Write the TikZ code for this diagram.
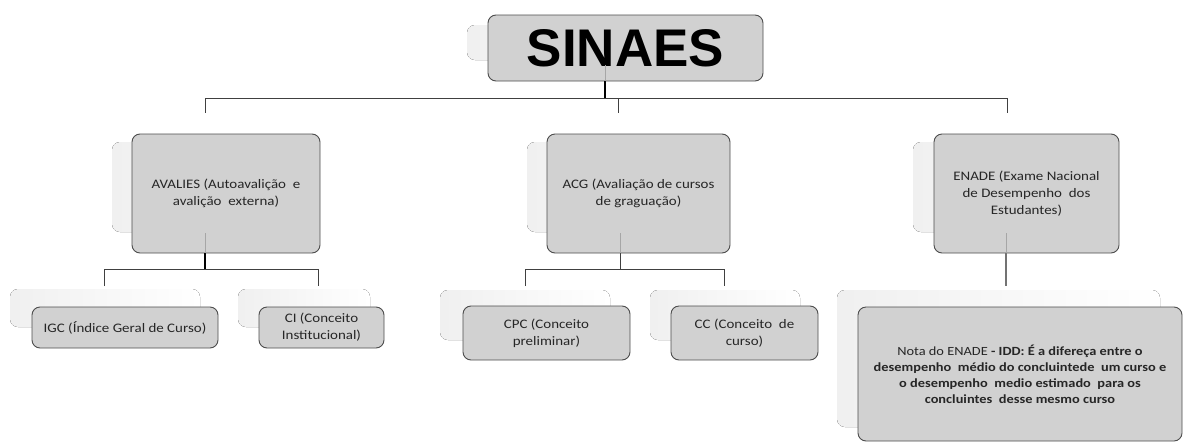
\documentclass[tikz,border=0pt]{standalone}
\usepackage{fontspec}
\setmainfont{Carlito}[FakeStretch=1.15]
\newfontfamily\arialfont{Liberation Sans}
\usetikzlibrary{calc}
\definecolor{boxgray}{RGB}{209,209,209}
\tikzset{
  box/.style={draw=black!70, fill=boxgray, rounded corners=8pt, line width=0.9pt,
    align=center, text=black!85, inner sep=0pt, font=\fontsize{13}{17}\selectfont},
  ghost/.style={rounded corners=8pt, left color=black!6, right color=white},
  link/.style={draw=black!75, line width=0.9pt},
  trunk/.style={draw=black, line width=1.6pt},
  seethru/.style={draw=black!35, line width=0.7pt},
}

\begin{document}
\begin{tikzpicture}[x=1pt,y=-1pt]
    \useasboundingbox (0,0) rectangle (1184,445);

    % faded backdrops
    \fill[ghost] (467,25) rectangle (700,60);
    \fill[ghost] (112,142) rectangle (300,232);
    \fill[ghost] (527,142) rectangle (700,232);
    \fill[ghost] (913,142) rectangle (1090,232);
    \fill[ghost] (10,289) rectangle (200,327);
    \fill[ghost] (238,289) rectangle (370,327);
    \fill[ghost] (440,290) rectangle (610,340);
    \fill[ghost] (650,290) rectangle (800,340);
    \fill[ghost] (837,290) rectangle (1160,427);

    % boxes
    \node[box, minimum width=275pt, minimum height=66pt] (sinaes) at (625.5,48)
        {\arialfont\bfseries\color{black}\fontsize{53}{53}\selectfont SINAES};
    \node[box, minimum width=188pt, minimum height=119pt] (avalies) at (226,193.5)
        {AVALIES (Autoavalição\ \ e\\avalição\ \ externa)};
    \node[box, minimum width=183pt, minimum height=119pt] (acg) at (638.5,193.5)
        {ACG (Avaliação de cursos\\de graguação)};
    \node[box, minimum width=185pt, minimum height=119pt] (enade) at (1026.5,193.5)
        {ENADE (Exame Nacional\\de Desempenho\ \ dos\\Estudantes)};
    \node[box, minimum width=186pt, minimum height=41pt] (igc) at (125,327.5)
        {IGC (Índice Geral de Curso)};
    \node[box, minimum width=125pt, minimum height=41pt] (ci) at (321.5,327.5)
        {CI (Conceito\\Institucional)};
    \node[box, minimum width=167pt, minimum height=54pt] (cpc) at (546.5,333)
        {CPC (Conceito\\preliminar)};
    \node[box, minimum width=147pt, minimum height=54pt] (cc) at (744.5,333)
        {CC (Conceito\ \ de\\curso)};
    \node[box, minimum width=324pt, minimum height=134pt, font=\fontsize{12.5}{16}\selectfont] (nota) at (1020,374)
        {Nota do ENADE \textbf{- IDD: É a difereça entre o}\\
         \textbf{desempenho\ \ médio do concluintede\ \ um curso e}\\
         \textbf{o desempenho\ \ medio estimado\ \ para os}\\
         \textbf{concluintes\ \ desse mesmo curso}};

    % junctions
    \coordinate (top) at (605,98);
    \coordinate (topL) at (205,98);
    \coordinate (topM) at (618,98);
    \coordinate (topR) at (1007,98);
    \coordinate (endL) at (205,113);
    \coordinate (endM) at (618,113);
    \coordinate (endR) at (1007,113);
    \coordinate (av) at (205,269);
    \coordinate (avL) at (104,269);
    \coordinate (avR) at (318,269);
    \coordinate (avLend) at (104,286);
    \coordinate (avRend) at (318,286);
    \coordinate (ac) at (620,269);
    \coordinate (acL) at (525,269);
    \coordinate (acR) at (724,269);
    \coordinate (acLend) at (525,286);
    \coordinate (acRend) at (724,286);
    \coordinate (en) at (1006,286);

    % first level
    \draw[trunk] (sinaes.south -| top) -- (top);
    \draw[link] (topL) -- (topR);
    \draw[link] (topL) -- (endL);
    \draw[link] (topM) -- (endM);
    \draw[link] (topR) -- (endR);

    % second level
    \draw[trunk] (avalies.south -| av) -- (av);
    \draw[link] (avLend) -- (avL) -- (avR) -- (avRend);
    \draw[link] (acg.south -| ac) -- (ac);
    \draw[link] (acLend) -- (acL) -- (acR) -- (acRend);
    \draw[draw=black!55, line width=1.2pt] (enade.south -| en) -- (en);

    % lines showing through the boxes
    \draw[seethru] (sinaes.south -| top) -- ++(0,-16);
    \draw[seethru] (avalies.south -| av) -- ++(0,-20);
    \draw[seethru] (acg.south -| ac) -- ++(0,-20);
    \draw[seethru] (enade.south -| en) -- ++(0,-20);
\end{tikzpicture}
\end{document}
